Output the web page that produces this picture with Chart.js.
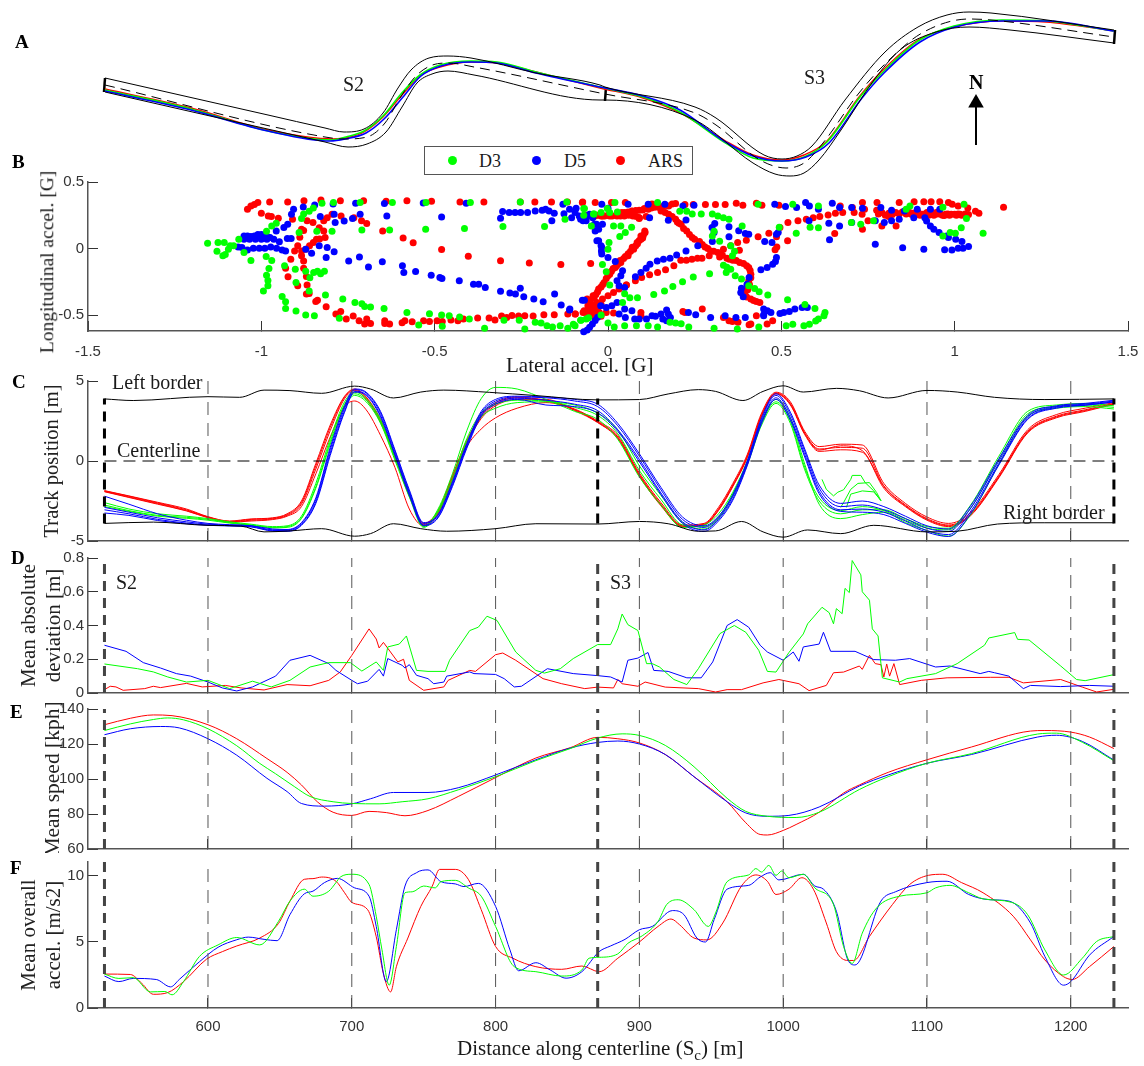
<!DOCTYPE html>
<html>
<head>
<meta charset="utf-8">
<script src="https://cdn.jsdelivr.net/npm/chart.js@4/dist/chart.umd.min.js"></script>
<style>
html, body { margin: 0; background: #fff; }
#page { position: relative; width: 1144px; height: 1066px; overflow: hidden; }
canvas { position: absolute; left: 0; }
.txt { position: absolute; font-family: "Liberation Serif", serif; font-size: 20px; color: #1a1a1a; white-space: nowrap; line-height: 1; }
.letter { font-weight: bold; font-size: 19px; color: #000; }
#legendBox { position: absolute; left: 424px; top: 146px; width: 267px; height: 27px; border: 1px solid #555; background: #fff; }
.dot { position: absolute; top: 9px; width: 9px; height: 9px; border-radius: 50%; }
</style>
</head>
<body>
<div id="page"></div>
<script>
const GREEN = '#00ff00', BLUE = '#0000ff', RED = '#ff0000';

const mapLeftBorder = [[105,78],[268,115],[325,128],[344,132],[364,129],[383,113],[398,88],[411,70],[429,58],[448,56],[471,58],[536,73],[600,85],[605,87],[695,107],[716,118],[764,155],[782,159],[797,156],[812,146],[845,100],[885,52],[918,27],[947,15],[969,12],[991,13],[1114,30]];
const mapRightBorder = [[105,92],[325,142],[348,147],[367,144],[386,132],[402,107],[417,83],[432,74],[448,71],[474,75],[600,100],[605,100],[695,120],[753,163],[775,174],[790,176],[804,173],[819,160],[841,130],[874,80],[900,50],[936,32],[969,27],[1010,30],[1114,43]];
const mapCenter = [[105,85],[325,137],[344,139],[367,137],[385,123],[400,98],[415,77],[430,66],[448,63],[474,67],[600,93],[605,94],[695,113],[716,125],[760,160],[786,168],[804,163],[823,143],[859,93],[889,60],[922,33],[969,19],[991,20],[1114,37]];
const mapBlue = [[105,91],[191,110],[268,131],[330,141],[345,139],[366,133],[384,119],[403,97],[421,76],[441,66],[471,62],[497,63],[536,73],[600,87],[643,96],[680,110],[724,141],[753,156],[782,161],[806,157],[829,143],[862,98],[884,73],[920,42],[955,27],[1002,21],[1046,21],[1114,31]];
const mapGreen = [[105,90],[191,109],[268,131],[332,140],[346,137],[364,131],[383,116],[401,94],[420,75],[440,65],[471,61],[497,62],[536,72],[600,87],[643,97],[680,112],[724,142],[753,158],[782,161],[804,157],[827,142],[860,97],[882,73],[918,41],[954,26],[1002,20],[1046,21],[1114,31]];
const mapRed = [[105,89],[191,108],[268,130],[333,139],[350,137],[364,132],[383,117],[402,95],[421,75],[440,67],[471,62],[497,63],[536,72],[600,88],[643,98],[680,113],[724,140],[753,155],[782,160],[804,155],[826,142],[859,97],[881,72],[918,40],[954,27],[1002,21],[1046,22],[1114,31]];
const mapStarts = [[[105,78],[104,92]],[[606,87],[605,101]],[[1115,30],[1114,44]]];
const northArrow = [[976,145],[976,104]];
const northHead = [[976,103]];

// --- panel B, lateral / longitudinal acceleration
const dotsD3 = [[-1.155,.04],[-1.125,.045],[-1.107,.045],[-1.09,.02],[-1.08,.02],[-1.128,-.02],[-1.111,-.055],[-1.104,-.045],[-1.095,-.005],[-1.05,-.03],[-1.03,-.09],[-1.065,.07],[-.986,-.06],[-.97,-.09],[-.978,-.15],[-.985,-.2],[-.981,-.24],[-.981,-.28],[-.994,-.32],[-.94,-.36],[-.93,-.4],[-.93,-.45],[-.9,-.47],[-.872,-.5],[-.847,-.505],[-.933,-.13],[-.902,-.155],[-.872,-.17],[-.86,-.22],[-.849,-.18],[-.838,-.17],[-.829,-.19],[-.818,-.17],[-.9,-.255],[-.862,-.32],[-.815,-.35],[-.765,-.38],[-.73,-.405],[-.71,-.415],[-.702,-.435],[-.685,-.44],[-.646,-.45],[-.775,-.525],[-.58,-.48],[-.515,-.49],[-.546,-.575],[-.48,-.5],[-.478,-.585],[-.458,-.505],[-.428,-.515],[-.4,-.53],[-.356,-.6],[-.3,-.54],[-.256,-.54],[-.24,-.605],[-.21,-.555],[-.193,-.56],[-.176,-.58],[-.16,-.59],[-.138,-.58],[-.116,-.6],[-.1,-.57],[-.078,-.54],[-.056,-.52],[-.02,-.5],
 [-.985,.13],[-.97,.17],[-.957,.19],[-.884,.225],[-.878,.26],[-.862,.28],[-.85,.305],[-.825,.34],[-.792,.345],[-.715,.345],[-.622,.345],[-.525,.345],[-.397,.345],[-.253,.35],[-.119,.35],[-.068,.3],[-.04,.26],[-.02,.27],[-.002,.3],[.02,.345],[-.891,.12],[-.84,.13],[-.796,.13],[-.71,.14],[-.63,.14],[-.526,.145],[-.414,.15],[-.303,.165],[-.183,.165],[-.124,.22],[-.07,.25],
 [-.07,.3],[-.042,.26],[.005,.27],[.027,.275],[-.048,.17],[.016,.17],[.037,.17],[.05,.12],[.068,.16],[.034,.09],[.003,.045],[0,-.005],[-.016,-.12],[-.005,-.175],[.005,-.275],[.042,-.405],[.063,-.37],[.085,-.37],[.048,-.34],[.132,-.345],[.163,-.32],[.187,-.285],[.215,-.25],[.246,-.215],[.293,-.19],[.333,-.125],[.343,-.14],[.354,-.155],[.341,-.18],[.367,-.205],[.385,-.23],[.406,-.28],[.423,-.3],[.436,-.325],[.461,-.35],[.518,-.385],[.568,-.42],[.597,-.45],[.626,-.48],[.623,-.505],[.607,-.53],[.599,-.545],[.581,-.57],[.565,-.58],[.533,-.57],[.514,-.58],[.435,-.59],[.306,-.6],[.373,-.605],[.233,-.59],[.211,-.565],[.195,-.56],[.179,-.555],[.143,-.59],[.116,-.58],[.082,-.58],[.048,-.58],[.018,-.59],[0,-.56],[-.063,-.53],[-.079,-.54],[-.095,-.58],
 [.243,.26],[.269,.26],[.301,.26],[.317,.245],[.333,.232],[.349,.22],[.301,.095],[.306,.13],[.322,.055],[.354,.02],[.365,-.02],[.359,-.055],[.387,.17],[.494,.16],[.543,.115],[.583,.16],[.607,.157],[.702,.195],[.729,.183],[.766,.208],[.966,.095],[.987,.12],[1.002,.115],[1.019,.157],[1.034,.225],[1.082,.115],[1.027,.332],[.966,.31],[.871,.32],[.86,.295],[.607,.32],[.533,.332],[.143,.345],[.433,.332],[.207,.28],[.227,.28]];
const dotsD5 = [[-1.05,.095],[-1.04,.095],[-1.03,.09],[-1.02,.095],[-1.01,.105],[-1.0,.105],[-.985,.095],[-.975,.083],[-.964,.07],[-.948,.05],[-1.05,.07],[-1.034,.07],[-1.017,.07],[-1.0,.07],[-.984,.07],[-1.067,.012],[-1.056,.008],[-1.04,-.012],[-1.023,.002],[-1.006,.002],[-.99,.002],[-.973,.012],[-.956,.002],[-.94,-.012],[-.93,-.018],[-.914,.075],[-.925,.075],[-.957,.132],[-.935,.158],[-.924,.183],[-.913,.258],[-.907,.295],[-.879,.312],[-.846,.328],[-.793,.335],[-.728,.34],[-.645,.338],[-.533,.342],[-.409,.34],[-.83,.24],[-.787,.195],[-.761,.207],[-.737,.225],[-.715,.258],[-.79,.258],[-.638,.245],[-.48,.237],[-.872,-.005],[-.855,-.035],[-.833,.02],[-.81,.008],[-.79,-.025],[-.813,-.068],[-.748,-.093],[-.717,-.063],[-.691,-.138],[-.651,-.1],[-.593,-.13],[-.589,-.18],[-.555,-.172],[-.51,-.2],[-.485,-.218],[-.479,-.225],[-.429,-.242],[-.388,-.268],[-.373,-.268],[-.354,-.293],[-.31,-.322],[-.283,-.335],[-.267,-.342],[-.253,-.298],[-.243,-.363],[-.214,-.38],[-.187,-.4],[-.154,-.342],[-.135,-.425],[-.11,-.455],[-.068,-.388],
 [-.31,.228],[-.304,.278],[-.285,.27],[-.268,.27],[-.252,.27],[-.232,.27],[-.21,.282],[-.19,.287],[-.18,.295],[-.17,.282],[-.155,.265],[-.13,.332],[-.092,.302],[-.162,.208],[-.127,.262],[-.105,.232],[-.083,.245],[-.072,.208],[-.061,.245],[-.044,.232],[-.033,.182],[-.027,.145],[-.027,.058],[-.018,.008],[-.018,-.042],[-.07,-.625],[-.06,-.612],[-.053,-.592],[-.045,-.567],[-.037,-.542],[-.03,-.517],
 [-.111,.295],[-.095,.27],[-.079,.22],[-.063,.208],[-.053,.258],[-.018,.332],[0,.302],[-.016,.182],[-.039,.182],[-.037,.132],[-.032,.058],[-.02,.02],[-.019,-.018],[0,-.068],[.021,-.098],[.042,-.168],[.037,-.205],[.026,-.243],[.032,-.28],[.048,-.293],[.079,-.212],[.095,-.18],[.11,-.148],[.121,-.118],[.142,-.093],[.16,-.08],[.179,-.073],[.198,-.048],[.225,-.018],[.259,.02],[.301,.053],[.306,.12],[.3,.158],[.308,.188],[.349,.163],[.349,.088],[.377,.133],[.396,.113],[.406,.108],[.486,.108],[.491,.12],[.452,.053],[.473,.045],[.486,-.068],[.483,-.098],[.475,-.118],[.459,-.143],[.441,-.16],[.407,-.218],[.401,-.268],[.385,-.298],[.383,-.33],[.39,-.363],
 [.449,-.455],[.46,-.468],[.47,-.48],[.449,-.505],[.496,-.488],[.507,-.48],[.523,-.473],[.539,-.455],[.56,-.443],[.575,-.443],[-.111,-.463],[-.074,-.388],[-.021,-.43],[-.005,-.443],[.026,-.405],[.032,-.493],[.011,-.43],[.048,-.455],[.069,-.468],[.05,-.518],[.077,-.53],[.09,-.53],[.111,-.53],[.127,-.505],[.137,-.51],[.153,-.493],[.169,-.463],[.174,-.493],[.158,-.53],[.169,-.543],[.18,-.518],[.232,-.48],[.253,-.498],[.296,-.518],[.338,-.505],[.369,-.518],[.396,-.518],[.449,-.498],
 [.058,.332],[.116,.332],[.164,.332],[.216,.32],[.248,.325],[.481,.332],[.512,.315],[.57,.345],[.581,.32],[.544,.308],[.607,.295],[.647,.34],[.668,.308],[.668,.17],[.58,.208],[.637,.19],[.639,.065],[.771,.032],[.85,.005],[.911,-.005],[.971,-.01],[.992,-.012],[1.01,.002],[1.024,.002],[1.04,.015],[1.021,.052],[1.003,.07],[.982,.082],[.977,.095],[.955,.12],[.94,.145],[.93,.17],[.919,.207],[.914,.232],[.703,.195],[.771,.208],[.797,.195],[.818,.208],[.84,.22],[.882,.232],[.703,.308],[.734,.302],[.787,.308],[.818,.288],[.855,.282],[.892,.295],[.93,.295],[.957,.295],[.12,.232],[.174,.213],[.225,.215]];
const dotsARS = [[-.976,.35],[-.924,.35],[-.877,.36],[-.828,.365],[-.772,.36],[-.705,.36],[-.64,.355],[-.58,.36],[-.509,.355],[-.427,.35],[-.358,.35],[-.253,.35],[-.211,.35],[-.163,.35],[-.117,.35],[-.073,.35],[-.074,.345],[-.037,.345],[.01,.345],[.05,.345],[.127,.335],[.222,.33],[.246,.33],[.281,.33],[.31,.33],[.338,.33],[.37,.34],[.389,.325],[.428,.34],[.444,.325],[.493,.325],
 [-1.04,.295],[-1.03,.32],[-1.02,.33],[-1.01,.345],[-1.0,.265],[-.98,.245],[-.971,.24],[-.951,.228],[-.91,.22],[-.868,.208],[-.851,.195],[-.884,.145],[-.878,.135],[-.889,.085],[-.895,.02],[-.904,-.018],[-.884,-.018],[-.884,-.055],[-.878,-.093],[-.915,-.08],[-.93,-.148],[-.923,-.212],[-.878,-.148],[-.87,-.21],[-.895,-.28],[-.868,-.275],[-.87,-.342],[-.862,-.338],[-.843,-.398],[-.838,-.388],[-.813,-.438],[-.785,-.493],[-.771,-.473],[-.755,-.53],[-.735,-.508],[-.718,-.543],[-.702,-.568],[-.696,-.53],[-.685,-.563],[-.644,-.543],[-.644,-.563],[-.63,-.568],[-.594,-.558],[-.586,-.543],[-.565,-.55],[-.532,-.543],[-.515,-.548],[-.493,-.543],[-.478,-.548],[-.453,-.538],[-.433,-.543],[-.417,-.53],[-.376,-.523],[-.343,-.523],[-.326,-.538],[-.307,-.508],[-.292,-.518],[-.277,-.503],[-.258,-.508],[-.24,-.505],[-.216,-.508],[-.185,-.498],[-.155,-.498],[-.116,-.493],[-.094,-.493],[-.072,-.48],
 [-.841,.07],[-.85,.045],[-.861,.02],[-.872,-.005],[-.832,.072],[-.833,.157],[-.82,.132],[-.816,.082],[-.82,.208],[-.81,.232],[-.796,.258],[-.77,.245],[-.733,.232],[-.711,.208],[-.696,.188],[-.65,.132],[-.591,.08],[-.562,.043],[-.48,-.008],[-.403,-.058],[-.31,-.092],[-.227,-.108],[-.136,-.12],[-.05,-.112],
 [-.06,-.38],[-.054,-.405],[-.046,-.44],[-.038,-.46],[-.03,-.49],[-.02,-.51],[-.005,-.48],[-.059,.245],[-.038,.245],[-.016,.245],[.005,.245],[.026,.245],[.047,.245],[.11,.24],[.09,.232],[.048,.27],[.069,.282],[.09,.288],[.116,.295],[.148,.308],[.175,.32],[.195,.338],[.153,.282],[.175,.258],[.195,.22],[.211,.182],[.227,.132],[.243,.082],[.264,.052],[.28,.012],[.296,-.018],[.317,-.03],[.322,-.063],[.343,-.073],[.36,-.088],[.379,-.013],[.391,-.112],[.406,-.143],[.412,-.193],[.406,-.243],[.401,-.293],[.385,-.33],[.396,-.355],[.412,-.38],[.428,-.398],[.438,-.405],[.428,-.505],[.412,-.568],[.407,-.573],[.375,-.555],[.359,-.548],[.349,-.543],[.333,-.518],
 [.09,.232],[.106,.132],[.095,.095],[.084,.045],[.074,-.005],[.058,-.055],[.037,-.105],[.021,-.143],[.005,-.193],[-.011,-.255],[-.027,-.305],[-.043,-.355],[-.053,-.393],[-.058,-.43],[-.053,-.468],[-.043,-.505],[-.069,-.468],[-.095,-.493],[-.037,-.455],[.032,-.305],[.016,-.33],[0,-.355],[-.016,-.38],[-.032,-.405],[.053,-.275],
 [.016,-.485],[.095,-.48],[.095,-.505],[.216,-.473],[.222,-.48],[.272,-.455],[.459,-.568],[.475,-.543],[.053,-.275],[.079,-.243],[.097,-.218],[.12,-.198],[.143,-.18],[.166,-.16],[.19,-.13],[.21,-.088],[.226,-.088],[.242,-.08],[.258,-.073],[.271,-.073],[.292,-.055],
 [.374,.045],[.354,.02],[.333,-.005],[.399,.063],[.433,.088],[.464,.115],[.486,.088],[.518,.058],[.487,.012],[.482,-.01],[.496,.158],[.519,.195],[.548,.208],[.572,.22],[.592,.232],[.611,.24],[.635,.252],[.656,.265],[.677,.27],[.71,.27],[.733,.258],[.75,.208],[.79,.27],[.81,.24],[.849,.275],[.87,.27],[.908,.258],[.93,.258],[.947,.27],[.96,.258],[.974,.258],[.99,.258],[1.0,.258],[1.016,.258],[.654,.113],[.734,.145],[.79,.17],[.831,.17],[.734,.345],[.776,.345],[.84,.345],[.883,.352],[.911,.352],[.932,.352],[.957,.352],[.982,.345],[.993,.332],[1.01,.32],[1.038,.305],[1.06,.28],[1.07,.265],[1.141,.31],[.67,.32],[.705,.308],[.74,.295],[.775,.287],[.81,.265],[.84,.26],[.875,.258],[.89,.262],[.92,.27],[.94,.25],[.97,.248],[1.02,.25]];
// the tight red chains, where the dots nearly touch
const dotsARSChains = [[-.06,.25],[-.05,.245],[-.04,.245],[-.03,.25],[-.02,.245],[-.01,.245],[0,.25],[.012,.245],[.024,.25],[.036,.245],[.06,.25],[.072,.245],[.082,.24],[.09,.225],
 [.04,.27],[.058,.275],[.07,.28],[.08,.285],[.1,.29],[.105,.3],[.125,.305],[.135,.31],[.158,.315],[.165,.325],[.185,.335],
 [.107,.12],[.102,.1],[.1,.08],[.095,.07],[.09,.06],[.085,.035],[.08,.02],[.07,.01],[.065,-.02],[.058,-.04],[.05,-.06],[.045,-.075],[.035,-.09],[.03,-.115],[.025,-.13],[.015,-.15],[.01,-.17],[0,-.205],[-.005,-.225],[-.015,-.27],[-.02,-.29],[-.03,-.325],[-.035,-.345],[-.04,-.37],[-.05,-.41],[-.055,-.45],[-.05,-.475],[-.045,-.49],[-.035,-.47],[-.04,-.44],[-.03,-.45],[-.025,-.48],[-.055,-.49],[-.065,-.48],[-.02,-.42],
 [.165,.27],[.185,.24],[.2,.2],[.205,.19],[.218,.15],[.235,.105],[.25,.07],[.272,.03],[.288,0],[.305,-.02],[.33,-.05],[.35,-.08],[.37,-.09],[.38,-.105],[.4,-.13],[.41,-.165],[.412,-.22],[.408,-.27],[.403,-.31],[.395,-.33],[.39,-.34],[.4,-.365],[.42,-.39],
 [.78,.26],[.8,.25],[.82,.255],[.83,.27],[.86,.26],[.88,.265],[.885,.25],[.895,.27],[.9,.25],[.915,.26],[.925,.25],[.935,.265],[.95,.26],[.965,.25],[.98,.26],[.985,.25],[1.005,.25],[1.01,.26],[1.03,.26],[1.04,.255]];

// --- panel C, track position, read at common stations
const trackS = [528,545,565,585,600,615,630,645,655,665,675,685,695,702,710,720,730,740,750,760,770,780,790,800,815,835,855,871,885,900,915,930,945,955,965,975,985,995,1005,1015,1025,1040,1055,1070,1085,1100,1115,1130,1150,1170,1190,1210,1230];
const redLaps = [
 [-1.87,-2.2,-2.62,-3.05,-3.5,-3.78,-3.65,-3.58,-3.35,-2.6,-0.3,2.1,4.0,4.45,3.95,2.5,0.3,-2.1,-3.95,-3.15,-1.0,1.2,2.75,3.55,3.95,3.8,3.2,2.45,1.5,-0.85,-2.7,-4.05,-3.95,-3.0,-1.5,0.3,2.9,4.25,3.6,1.75,0.75,0.85,0.8,-1.55,-2.75,-3.6,-4.0,-3.35,-0.95,1.85,2.8,3.2,3.6],
 [-1.9,-2.25,-2.66,-3.1,-3.52,-3.8,-3.7,-3.62,-3.4,-2.7,-0.5,1.9,3.9,4.4,3.85,2.4,0.2,-2.2,-4.0,-3.25,-1.1,1.1,2.65,3.45,3.85,3.85,3.15,2.4,1.4,-0.95,-2.8,-4.1,-4.0,-3.1,-1.6,0.2,2.8,4.2,3.5,1.65,0.6,0.7,0.55,-1.7,-2.85,-3.7,-4.1,-3.45,-1.05,1.75,2.7,3.1,3.55],
 [-1.85,-2.18,-2.58,-3.0,-3.48,-3.75,-3.62,-3.55,-3.3,-2.5,-0.15,2.25,4.05,4.5,4.0,2.6,0.4,-2.0,-3.9,-3.1,-0.9,1.3,2.85,3.65,4.0,3.75,3.25,2.5,1.6,-0.75,-2.6,-4.0,-3.9,-2.9,-1.4,0.4,3.0,4.3,3.7,1.85,0.9,1.05,1.0,-1.4,-2.65,-3.5,-3.9,-3.25,-0.85,1.95,2.9,3.3,3.65],
 [-1.92,-2.28,-2.7,-3.12,-3.55,-3.82,-3.75,-3.66,-3.45,-2.85,-0.8,1.5,3.4,3.75,3.2,1.6,-0.4,-3.0,-4.05,-3.3,-1.2,0.9,2.0,2.7,3.3,3.65,3.2,2.42,1.45,-0.9,-2.75,-4.08,-3.98,-3.05,-1.55,0.25,2.85,4.22,3.55,1.7,0.68,0.95,0.65,-1.6,-2.8,-3.65,-4.05,-3.4,-1.0,1.8,2.75,3.15,3.58]
];
const blueLaps = [
 [-2.9,-3.2,-3.55,-3.8,-3.95,-4.0,-4.05,-4.3,-4.3,-3.9,-2.4,0.7,3.3,4.45,4.25,3.0,0.6,-1.9,-3.9,-3.4,-1.4,1.0,3.0,3.75,4.0,3.95,3.75,3.4,2.2,0.3,-1.8,-3.65,-4.15,-3.55,-2.2,-0.1,2.6,4.1,2.9,0.6,-1.7,-2.85,-2.75,-3.05,-3.6,-4.2,-4.4,-3.0,0.0,2.75,3.4,3.55,3.75],
 [-2.2,-2.7,-3.3,-3.7,-3.9,-3.98,-4.05,-4.25,-4.28,-3.85,-2.3,0.85,3.45,4.5,4.3,3.1,0.7,-1.8,-3.85,-3.35,-1.3,1.1,3.1,3.85,4.05,4.0,3.85,3.55,2.35,0.45,-1.65,-3.5,-4.05,-3.45,-2.1,0,2.7,4.2,3.05,0.75,-1.5,-2.65,-2.5,-2.85,-3.45,-4.05,-4.25,-2.85,0.15,2.85,3.45,3.6,3.8],
 [-3.05,-3.3,-3.65,-3.88,-4.0,-4.04,-4.1,-4.34,-4.35,-3.98,-2.55,0.5,3.15,4.35,4.15,2.85,0.45,-2.05,-4.0,-3.5,-1.5,0.9,2.9,3.65,3.92,3.8,3.55,3.15,1.95,0.1,-2.0,-3.8,-4.3,-3.65,-2.35,-0.2,2.45,3.95,2.7,0.4,-1.9,-3.05,-3.0,-3.2,-3.75,-4.35,-4.6,-3.2,-0.15,2.65,3.35,3.5,3.7],
 [-3.25,-3.4,-3.72,-3.92,-4.02,-4.06,-4.12,-4.38,-4.4,-4.02,-2.65,0.35,3.05,4.3,4.1,2.75,0.35,-2.15,-4.05,-3.55,-1.6,0.8,2.8,3.55,3.85,3.5,3.4,3.0,1.85,-0.05,-2.1,-3.9,-4.4,-3.75,-2.45,-0.3,2.35,3.85,2.55,0.25,-2.05,-3.15,-3.2,-3.35,-3.9,-4.45,-4.72,-3.35,-0.25,2.6,3.3,3.48,3.68]
];
const greenLaps = [
 [-2.6,-3.0,-3.3,-3.45,-3.6,-3.8,-3.95,-4.1,-4.05,-3.45,-1.4,1.4,3.7,4.3,3.9,2.6,0.3,-2.0,-4.05,-3.1,-1.1,1.4,3.0,3.55,3.8,3.75,3.35,2.85,1.7,-0.6,-2.4,-4.0,-4.1,-3.5,-2.05,-0.1,2.4,3.7,2.5,-0.4,-2.3,-3.1,-2.85,-3.1,-3.7,-4.2,-4.3,-3.0,0.1,2.95,3.4,3.5,3.35],
 [-2.75,-3.1,-3.4,-3.52,-3.65,-3.85,-4.0,-4.15,-4.1,-3.55,-1.6,1.2,3.55,4.2,3.8,2.45,0.2,-2.1,-4.1,-3.0,-0.8,1.9,3.9,4.6,4.5,3.85,3.1,2.6,1.35,-1.0,-2.75,-4.15,-4.0,-3.3,-1.95,0,2.5,3.85,2.7,-0.2,-2.7,-3.6,-3.35,-3.2,-3.85,-4.35,-4.7,-3.4,-0.2,2.8,3.3,3.4,3.25],
 [-2.85,-3.15,-3.45,-3.58,-3.7,-3.88,-4.02,-4.18,-4.15,-3.6,-1.7,1.05,3.4,4.1,3.7,2.35,0.05,-2.25,-4.15,-3.2,-1.3,1.2,2.75,3.3,3.65,3.7,3.5,3.0,1.95,-0.3,-2.15,-3.85,-4.25,-3.6,-2.2,-0.25,2.25,3.6,2.35,-0.55,-2.5,-3.3,-3.05,-3.05,-3.6,-4.1,-4.2,-2.8,0.3,3.1,3.5,3.6,3.45]
];
const greenHumps = [
 [[1027,-1.15],[1030,-1.77],[1035,-2.18],[1038,-1.95],[1042,-1.8],[1047,-1.15],[1048,-.9],[1054,-.9],[1057,-1.35],[1063,-1.87],[1068,-2.48]],
 [[1040,-2.9],[1042,-2.6],[1047,-1.77],[1052,-1.4],[1060,-1.35],[1065,-1.97],[1068,-2.48]],
 [[1044,-2.9],[1047,-2.07],[1055,-1.87],[1063,-1.93],[1068,-2.48]]
];
const leftBorder = [[528,3.88],[548,3.78],[600,4.02],[622,3.98],[639,4.43],[657,4.4],[679,4.23],[702,4.68],[713,4.5],[729,3.94],[748,4.31],[764,4.43],[796,4.29],[828,4.09],[871,3.82],[900,3.84],[920,4.19],[941,4.46],[953,4.35],[972,3.78],[986,4.35],[1000,4.7],[1014,4.31],[1037,4.54],[1053,4.39],[1073,3.94],[1100,4.41],[1121,4.31],[1147,3.98],[1182,3.84],[1230,3.88]];
const rightBorder = [[528,-3.9],[562,-3.82],[600,-4.02],[623,-4.07],[639,-4.43],[657,-4.37],[679,-4.23],[702,-4.7],[713,-4.54],[729,-3.92],[748,-4.23],[766,-4.39],[800,-4.23],[828,-3.92],[871,-3.94],[900,-3.78],[920,-3.92],[941,-4.39],[953,-4.37],[971,-3.78],[986,-4.43],[1000,-4.76],[1017,-4.31],[1040,-4.54],[1063,-4.02],[1100,-4.43],[1121,-4.39],[1149,-3.94],[1182,-3.86],[1230,-3.86]];

// --- panel D, mean absolute deviation
const devD3 = [[528,.172],[551,.144],[562,.125],[572,.095],[585,.065],[600,.075],[615,.026],[631,.07],[644,.036],[657,.075],[671,.154],[684,.18],[699,.18],[707,.13],[717,.184],[722,.134],[725,.273],[733,.29],[738,.338],[745,.134],[753,.128],[765,.128],[768,.194],[782,.37],[788,.39],[794,.455],[801,.43],[814,.243],[828,.134],[834,.118],[845,.144],[854,.204],[871,.287],[880,.287],[885,.38],[888,.468],[892,.405],[899,.37],[905,.174],[909,.174],[914,.154],[924,.08],[933,.05],[941,.144],[956,.352],[966,.4],[974,.36],[983,.253],[989,.128],[995,.124],[1004,.24],[1014,.35],[1017,.41],[1027,.508],[1032,.476],[1035,.41],[1037,.5],[1041,.47],[1043,.62],[1046,.595],[1048,.785],[1054,.7],[1055,.6],[1060,.55],[1062,.38],[1066,.338],[1069,.09],[1081,.065],[1086,.085],[1106,.115],[1121,.174],[1140,.283],[1143,.326],[1161,.358],[1163,.318],[1171,.314],[1193,.16],[1204,.08],[1210,.073],[1230,.109]];
const devD5 = [[528,.283],[543,.247],[555,.18],[567,.148],[578,.115],[588,.1],[600,.065],[610,.03],[620,.012],[631,.036],[647,.1],[657,.194],[671,.223],[684,.174],[689,.134],[700,.075],[704,.055],[711,.07],[719,.14],[722,.1],[725,.204],[735,.164],[737,.148],[740,.168],[745,.105],[753,.085],[757,.055],[764,.065],[766,.1],[782,.125],[785,.115],[800,.11],[806,.085],[813,.036],[818,.04],[836,.144],[854,.115],[871,.103],[880,.095],[888,.065],[892,.194],[899,.207],[906,.24],[910,.134],[920,.128],[933,.09],[943,.09],[951,.184],[961,.4],[968,.435],[976,.39],[984,.283],[989,.243],[1000,.194],[1007,.243],[1011,.188],[1014,.273],[1025,.29],[1028,.36],[1033,.247],[1050,.247],[1063,.198],[1078,.194],[1088,.204],[1106,.154],[1116,.16],[1137,.115],[1143,.128],[1147,.12],[1157,.1],[1167,.026],[1172,.045],[1193,.038],[1213,.045],[1230,.04]];
const devARS = [[528,.02],[532,.04],[536,.036],[541,.016],[556,.026],[562,.04],[567,.032],[585,.057],[596,.036],[612,.045],[623,.03],[639,.018],[655,.05],[671,.043],[684,.075],[692,.125],[700,.223],[712,.38],[717,.32],[719,.267],[722,.3],[732,.184],[736,.2],[740,.075],[750,.016],[764,.036],[767,.075],[782,.134],[786,.128],[800,.227],[805,.237],[814,.194],[833,.085],[846,.055],[862,.026],[871,.035],[882,.03],[885,.08],[888,.055],[899,.04],[904,.065],[918,.035],[941,.026],[953,.006],[961,.02],[971,.02],[986,.06],[997,.08],[1011,.055],[1018,.014],[1030,.045],[1035,.12],[1042,.124],[1053,.16],[1055,.14],[1060,.223],[1064,.174],[1068,.168],[1070,.095],[1072,.172],[1074,.1],[1077,.174],[1081,.05],[1096,.075],[1114,.09],[1144,.093],[1157,.093],[1167,.06],[1193,.08],[1208,.035],[1218,.006],[1230,.022]];

// --- panel E, mean speed
const speedD3 = [[528,127.7],[546,131.5],[562,134],[572,134.9],[583,133.8],[600,128.7],[620,119],[636,108.9],[647,103],[660,95.7],[671,90],[687,87],[700,86],[719,85.8],[735,87],[753,88.7],[774,93.8],[800,101.3],[828,110.5],[852,117.4],[871,123.4],[888,125.8],[900,124.9],[918,119.2],[938,107],[961,89],[974,81.5],[989,78.7],[1009,78],[1025,81],[1053,94],[1073,101.3],[1100,109],[1131,114.5],[1177,125.7],[1190,126.2],[1208,121],[1230,110.4]];
const speedD5 = [[528,125.3],[546,128.7],[567,130],[580,129.2],[600,123],[620,113.6],[641,100.4],[655,92.8],[665,86],[681,84.5],[700,85.8],[713,88.7],[729,92.3],[753,92.3],[774,95],[800,102.3],[828,111],[852,117.7],[871,120.9],[885,121.7],[900,120],[918,114],[938,101.3],[961,87],[974,80.6],[989,78.7],[1004,79.2],[1025,84],[1053,96],[1073,102.3],[1100,109],[1131,114],[1177,124],[1190,125],[1208,121.5],[1230,110.8]];
const speedARS = [[528,131],[546,134.7],[562,136.6],[575,136.2],[600,131],[620,123],[641,111.7],[655,103.8],[665,96.6],[676,87],[687,81],[700,79.2],[712,81.5],[724,80.8],[737,79],[753,82],[774,90],[800,100.8],[828,112],[852,117.9],[871,123.8],[885,123],[900,120.6],[918,114],[938,101.3],[961,87],[974,75],[984,68.3],[989,68],[1000,70.6],[1009,74],[1025,81],[1042,92],[1053,96.6],[1073,103.8],[1100,111],[1131,118.3],[1172,127.4],[1182,127.7],[1200,126.8],[1213,124],[1230,117.4]];

// --- panel F, mean overall acceleration
const accelD3 = [[528,2.57],[538,2.24],[548,2.3],[560,1.22],[570,1.25],[575,1.0],[583,2],[594,3.9],[607,4.78],[620,5.34],[636,4.78],[649,6.56],[657,8.1],[667,9],[673,8.47],[684,8.85],[689,9.5],[692,9.92],[700,10.13],[712,9.36],[717,6.95],[721,4.4],[726,1.73],[731,4.66],[737,8.73],[742,8.8],[750,9.24],[758,9.1],[762,9.57],[772,9.67],[781,9.1],[790,8.47],[800,6.18],[813,3.13],[828,2.75],[846,2.42],[860,2.88],[865,3.77],[872,3.84],[885,4.1],[892,4.9],[902,5.47],[913,6.56],[919,7.84],[927,8.2],[938,7.45],[948,6.18],[953,7.2],[961,9.57],[976,10.08],[981,10.56],[985,10.3],[990,10.8],[995,10.05],[999,10.38],[1004,9.87],[1014,10.13],[1022,9.1],[1035,7.84],[1042,4.66],[1048,3.38],[1055,5.67],[1065,7.58],[1081,8.47],[1100,8.73],[1106,9.1],[1116,9.29],[1129,8.73],[1139,8.27],[1159,8.0],[1170,7.07],[1182,4.4],[1195,2.5],[1208,3.77],[1218,5.04],[1230,5.42]];
const accelD5 = [[528,2.42],[538,2],[548,2.24],[564,2.16],[574,1.6],[580,2.16],[594,3.5],[607,4.6],[620,5.17],[628,5.37],[639,5.2],[648,5.1],[657,7.07],[667,8.65],[673,8.85],[681,9.5],[690,9.82],[702,9.1],[712,8.47],[717,6.18],[724,2],[731,5.93],[737,9.24],[745,10.25],[753,10.46],[762,9.57],[772,9.4],[778,9.2],[788,9.44],[800,7.7],[810,4.4],[816,2.82],[828,3.43],[838,2.88],[849,2.26],[860,2.75],[872,4.27],[880,4.7],[890,5.2],[900,5.93],[909,6.18],[923,7.38],[931,7.07],[940,5.3],[946,5],[952,6.7],[961,9],[976,9.29],[984,9.92],[991,10.25],[997,9.7],[1014,10.13],[1022,9.24],[1028,9],[1037,7.33],[1045,3.64],[1050,3.26],[1068,8.1],[1078,8.8],[1100,9.5],[1114,9.6],[1129,8.6],[1144,8.2],[1157,8.1],[1172,6.44],[1182,3.9],[1195,1.73],[1200,2],[1213,4],[1230,5.42]];
const accelARS = [[528,2.57],[546,2.54],[554,1.86],[562,1.04],[572,1.17],[583,2],[599,3.7],[610,4.27],[620,4.7],[636,5.3],[649,6.4],[657,8.1],[667,9.75],[673,9.8],[679,9.92],[689,9.6],[695,8.73],[700,8],[711,7.45],[717,5.4],[722,2.6],[727,1.22],[731,3.13],[739,5.3],[748,7.7],[756,9.24],[761,10.5],[772,10.5],[781,9.75],[790,7.45],[800,4.66],[812,3.77],[828,3.13],[846,2.93],[860,3.18],[872,2.75],[885,3.77],[900,5],[913,6.18],[922,6.74],[928,6.3],[938,5.3],[947,5.16],[958,6.44],[971,9.24],[981,10.08],[989,9.6],[995,8.6],[1004,9],[1013,9.87],[1021,9],[1030,6.44],[1037,4.27],[1045,3.6],[1049,3.6],[1060,5.42],[1076,7.84],[1088,9.36],[1101,10.05],[1111,10.13],[1124,9.5],[1139,8.73],[1160,6.95],[1172,5.16],[1182,3.64],[1195,2.37],[1201,2.16],[1213,3.13],[1230,4.66]];

const gridS = [600, 700, 800, 900, 1000, 1100, 1200];
const sectionS = [528, 871, 1230];

const page = document.getElementById('page');
const xyOf = pairs => pairs.map(p => ({x: p[0], y: p[1]}));
const lapOf = vals => vals.map((v, i) => ({x: trackS[i], y: v}));

function line(data, color, width, dash, smooth) {
    return {
        type: 'scatter', showLine: true, data: data, borderColor: color, backgroundColor: color,
        borderWidth: width, borderDash: dash || [], pointRadius: 0,
        cubicInterpolationMode: smooth ? 'monotone' : 'default', tension: 0
    };
}

function guides(lo, hi, sectLo, sectHi, sectColor) {
    var out = [];
    gridS.forEach(function(s) {
        out.push(line([{x: s, y: lo}, {x: s, y: hi}], '#555555', 1, [13, 8]));
    });
    sectionS.forEach(function(s) {
        out.push(line([{x: s, y: sectLo}, {x: s, y: sectHi}], sectColor, 3, [10, 7]));
    });
    return out;
}

function makeAxis(opt) {
    return {
        type: 'linear', min: opt.min, max: opt.max,
        title: opt.title ? {display: true, text: opt.title, color: '#222222', padding: opt.titlePad || 0,
            font: {family: '"Liberation Serif", serif', size: opt.titleSize || 20}} : {display: false},
        border: {color: '#555555', width: 1.5},
        grid: {drawOnChartArea: false, drawTicks: true, tickLength: -10, tickColor: '#333333', tickWidth: 1},
        afterFit: opt.fit,
        ticks: {
            display: opt.labels !== false, stepSize: opt.step, includeBounds: false, autoSkip: false, maxRotation: 0,
            color: '#333333', padding: opt.tickPad, font: {family: '"Liberation Sans", sans-serif', size: 15},
            callback: function(v) { return String(+v.toFixed(2)); }
        }
    };
}

// each panel gets its own canvas with the plot area pinned at x 88..1128
function panel(plotTop, plotBottom, below, xOpt, yOpt, datasets) {
    var pad = 14;
    var c = document.createElement('canvas');
    c.width = 1144;
    c.height = plotBottom - plotTop + pad + below;
    c.style.top = (plotTop - pad) + 'px';
    page.appendChild(c);
    xOpt.fit = function(s) { s.height = below; s.paddingLeft = 0; s.paddingRight = 0; };
    yOpt.fit = function(s) { s.width = 88; s.paddingTop = 0; s.paddingBottom = 0; };
    return new Chart(c, {
        type: 'scatter',
        data: {datasets: datasets},
        options: {
            responsive: false, animation: false, events: [],
            layout: {autoPadding: false, padding: {top: pad, right: 16, bottom: 0, left: 0}},
            plugins: {legend: {display: false}, tooltip: {enabled: false}},
            scales: {x: makeAxis(xOpt), y: makeAxis(yOpt)}
        }
    });
}

function addText(html, left, top, cls, size) {
    var d = document.createElement('div');
    d.className = 'txt' + (cls ? ' ' + cls : '');
    d.innerHTML = html;
    d.style.left = left + 'px';
    d.style.top = top + 'px';
    if (size) d.style.fontSize = size + 'px';
    page.appendChild(d);
    return d;
}

// panel A: plan view of the track, no visible axes
(function() {
    var c = document.createElement('canvas');
    c.width = 1144; c.height = 180; c.style.top = '0px';
    page.appendChild(c);
    var sets = [
        line(xyOf(mapLeftBorder), '#000000', 1, [], true),
        line(xyOf(mapRightBorder), '#000000', 1, [], true),
        line(xyOf(mapCenter), '#000000', 1, [10, 6], true),
        line(xyOf(mapBlue), BLUE, 1.6, [], true),
        line(xyOf(mapGreen), GREEN, 1.6, [], true),
        line(xyOf(mapRed), RED, 1.4, [], true),
        line(xyOf(northArrow), '#000000', 2)
    ];
    mapStarts.forEach(function(m) { sets.push(line(xyOf(m), '#000000', 2.5)); });
    sets.push({type: 'scatter', data: xyOf(northHead), pointStyle: 'triangle', pointRadius: 9, borderWidth: 0, backgroundColor: '#000000'});
    new Chart(c, {
        type: 'scatter',
        data: {datasets: sets},
        options: {
            responsive: false, animation: false, events: [],
            plugins: {legend: {display: false}, tooltip: {enabled: false}},
            layout: {autoPadding: false, padding: 0},
            scales: {
                x: {type: 'linear', display: false, min: 0, max: 1144},
                y: {type: 'linear', display: false, min: 0, max: 180, reverse: true}
            }
        }
    });
})();

// panel B
function dots(list, color) {
    return {type: 'scatter', data: xyOf(list), backgroundColor: color, borderWidth: 0, pointRadius: 3.5, clip: false};
}
panel(182, 331, 45,
    {min: -1.5, max: 1.5, step: 0.5, tickPad: 22},
    {min: -0.62, max: 0.5, step: 0.5, tickPad: 14},
    [dots(dotsD3, GREEN), dots(dotsD5, BLUE), dots(dotsARS, RED), dots(dotsARSChains, RED)]);

// panel C
var xRange = {min: 516.55, max: 1239.8, step: 100, labels: false, tickPad: 0};
var setsC = [line(xyOf(leftBorder), '#000000', 1, [], true), line(xyOf(rightBorder), '#000000', 1, [], true)]
    .concat(guides(-5, 5, -3.9, 3.9, '#000000'));
setsC.push(line([{x: 528, y: 0}, {x: 1230, y: 0}], '#000000', 1, [12, 7]));
blueLaps.forEach(function(l) { setsC.push(line(lapOf(l), BLUE, 1, [], true)); });
greenLaps.forEach(function(l) { setsC.push(line(lapOf(l), GREEN, 1, [], true)); });
greenHumps.forEach(function(l) { setsC.push(line(xyOf(l), GREEN, 1)); });
redLaps.forEach(function(l) { setsC.push(line(lapOf(l), RED, 1, [], true)); });
panel(381, 541, 4, Object.assign({}, xRange),
    {min: -5, max: 5, step: 5, tickPad: 14, title: 'Track position [m]', titleSize: 20.5, titlePad: {top: 40}}, setsC);

// panel D
panel(558, 693, 4, Object.assign({}, xRange),
    {min: 0, max: 0.8, step: 0.2, tickPad: 14, title: ['Mean absolute', 'deviation [m]'], titleSize: 21, titlePad: {top: 17}},
    guides(0, 0.8, 0, 0.8, '#444444').concat([line(xyOf(devD3), GREEN, 1), line(xyOf(devD5), BLUE, 1), line(xyOf(devARS), RED, 1)]));

// panel E
panel(709, 849, 4, Object.assign({}, xRange),
    {min: 60, max: 140, step: 20, tickPad: 14, title: 'Mean speed [kph]', titleSize: 21.5, titlePad: {top: 40}},
    guides(60, 140, 60, 140, '#444444').concat([line(xyOf(speedD3), GREEN, 1, [], true), line(xyOf(speedD5), BLUE, 1, [], true), line(xyOf(speedARS), RED, 1, [], true)]));

// panel F
panel(862, 1008, 30, {min: 516.55, max: 1239.8, step: 100, tickPad: 20},
    {min: 0, max: 11.06, step: 5, tickPad: 14, title: ['Mean overall', 'accel. [m/s2]'], titleSize: 21, titlePad: {top: 17}},
    guides(0, 11.06, 0, 11.06, '#444444').concat([line(xyOf(accelD3), GREEN, 1, [], true), line(xyOf(accelD5), BLUE, 1, [], true), line(xyOf(accelARS), RED, 1, [], true)]));

// panel letters and notes
addText('A', 15, 32, 'letter');
addText('B', 12, 152, 'letter');
addText('C', 12, 372, 'letter');
addText('D', 11, 548, 'letter');
addText('E', 10, 702, 'letter');
addText('F', 10, 858, 'letter');
addText('S2', 343, 74);
addText('S3', 804, 67);
addText('N', 969, 72, 'letter', 20);
addText('Left border', 112, 372);
addText('Centerline', 117, 440);
addText('Right border', 1003, 502);
addText('S2', 116, 572);
addText('S3', 610, 572);
addText('Lateral accel. [G]', 506, 355, '', 21);
addText('Distance along centerline (S<sub style="font-size:15px;line-height:0">c</sub>) [m]', 457, 1038, '', 21);

// the panel B y title sits lower than the axis centre, so it is placed by hand
var yTitleB = addText('Longitudinal accel. [G]', 47, 262, '', 19.5);
yTitleB.style.transform = 'translate(-50%, -50%) rotate(-90deg)';

// legend box sits over panel A and B
var box = document.createElement('div');
box.id = 'legendBox';
box.innerHTML = '<span class="dot" style="left:23px;background:' + GREEN + '"></span>' +
    '<span class="txt" style="left:54px;top:5px;font-size:18px">D3</span>' +
    '<span class="dot" style="left:107px;background:' + BLUE + '"></span>' +
    '<span class="txt" style="left:139px;top:5px;font-size:18px">D5</span>' +
    '<span class="dot" style="left:191px;background:' + RED + '"></span>' +
    '<span class="txt" style="left:223px;top:5px;font-size:18px">ARS</span>';
page.appendChild(box);
</script>
</body>
</html>
